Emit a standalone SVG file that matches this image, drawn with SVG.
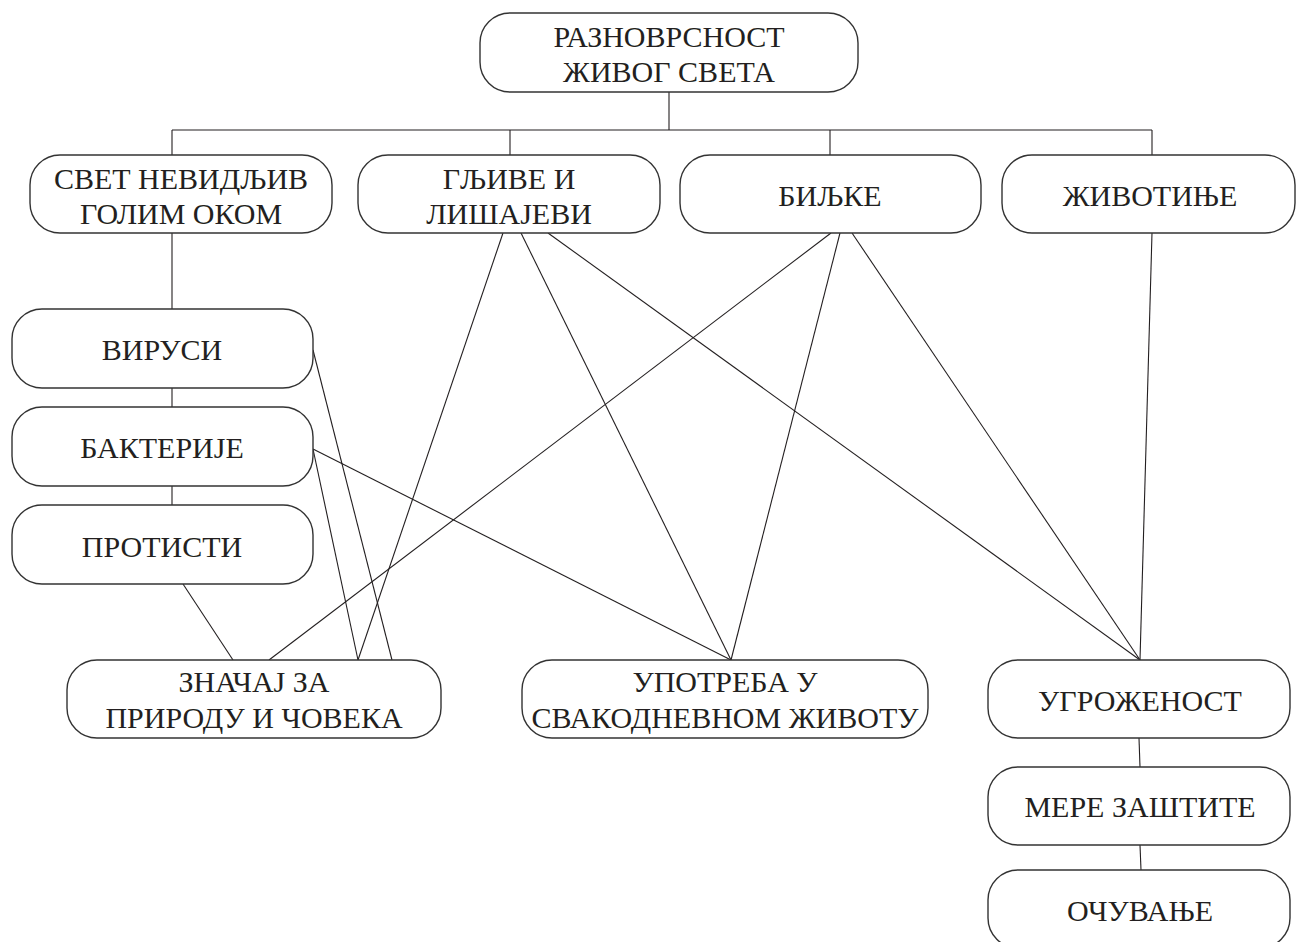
<svg xmlns="http://www.w3.org/2000/svg" width="1296" height="942" viewBox="0 0 1296 942">
<style>
.box{fill:#fff;stroke:#333;stroke-width:1.4}
.t{font-family:"Liberation Serif","Times New Roman",serif;font-size:30px;fill:#231f20;text-anchor:middle}
.c{stroke:#231f20;stroke-width:1.1;fill:none}
</style>
<rect width="1296" height="942" fill="#fff"/>
<g id="connectors">
<line class="c" x1="669" y1="92" x2="669" y2="130"/>
<line class="c" x1="172" y1="130" x2="1152" y2="130"/>
<line class="c" x1="172" y1="130" x2="172" y2="155"/>
<line class="c" x1="510" y1="130" x2="510" y2="155"/>
<line class="c" x1="830" y1="130" x2="830" y2="155"/>
<line class="c" x1="1152" y1="130" x2="1152" y2="155"/>
<line class="c" x1="172" y1="233" x2="172" y2="309"/>
<line class="c" x1="172" y1="388" x2="172" y2="407"/>
<line class="c" x1="172" y1="486" x2="172" y2="505"/>
<line class="c" x1="313" y1="350" x2="392" y2="660"/>
<line class="c" x1="313" y1="449" x2="358" y2="660"/>
<line class="c" x1="313" y1="449" x2="731" y2="660"/>
<line class="c" x1="183" y1="584" x2="233" y2="660"/>
<line class="c" x1="503" y1="233" x2="358" y2="660"/>
<line class="c" x1="521" y1="233" x2="731" y2="660"/>
<line class="c" x1="548" y1="233" x2="1140" y2="660"/>
<line class="c" x1="831" y1="233" x2="269" y2="660"/>
<line class="c" x1="840" y1="233" x2="731" y2="660"/>
<line class="c" x1="852" y1="233" x2="1140" y2="660"/>
<line class="c" x1="1152" y1="233" x2="1140" y2="660"/>
<line class="c" x1="1139" y1="738" x2="1140" y2="767"/>
<line class="c" x1="1140" y1="845" x2="1141" y2="870"/>
</g>
<g id="root"><rect class="box" x="480" y="13" width="378" height="79" rx="30"/><text class="t" x="669" y="47">РАЗНОВРСНОСТ</text><text class="t" x="669" y="82">ЖИВОГ СВЕТА</text></g>
<g id="svet"><rect class="box" x="30" y="155" width="302" height="78" rx="30"/><text class="t" x="181" y="189">СВЕТ НЕВИДЉИВ</text><text class="t" x="181" y="224">ГОЛИМ ОКОМ</text></g>
<g id="gljive"><rect class="box" x="358" y="155" width="302" height="78" rx="30"/><text class="t" x="509" y="189">ГЉИВЕ И</text><text class="t" x="509" y="224">ЛИШАЈЕВИ</text></g>
<g id="biljke"><rect class="box" x="680" y="155" width="301" height="78" rx="30"/><text class="t" x="830" y="206">БИЉКЕ</text></g>
<g id="zivotinje"><rect class="box" x="1002" y="155" width="293" height="78" rx="30"/><text class="t" x="1150" y="206">ЖИВОТИЊЕ</text></g>
<g id="virusi"><rect class="box" x="12" y="309" width="301" height="79" rx="30"/><text class="t" x="162" y="360">ВИРУСИ</text></g>
<g id="bakterije"><rect class="box" x="12" y="407" width="301" height="79" rx="30"/><text class="t" x="162" y="458">БАКТЕРИЈЕ</text></g>
<g id="protisti"><rect class="box" x="12" y="505" width="301" height="79" rx="30"/><text class="t" x="162" y="557">ПРОТИСТИ</text></g>
<g id="znacaj"><rect class="box" x="67" y="660" width="374" height="78" rx="30"/><text class="t" x="254" y="692">ЗНАЧАЈ ЗА</text><text class="t" x="254" y="728">ПРИРОДУ И ЧОВЕКА</text></g>
<g id="upotreba"><rect class="box" x="522" y="660" width="406" height="78" rx="30"/><text class="t" x="725" y="692">УПОТРЕБА У</text><text class="t" x="725" y="728">СВАКОДНЕВНОМ ЖИВОТУ</text></g>
<g id="ugrozenost"><rect class="box" x="988" y="660" width="302" height="78" rx="30"/><text class="t" x="1140" y="711">УГРОЖЕНОСТ</text></g>
<g id="mere"><rect class="box" x="988" y="767" width="302" height="78" rx="30"/><text class="t" x="1140" y="817">МЕРЕ ЗАШТИТЕ</text></g>
<g id="ocuvanje"><rect class="box" x="988" y="870" width="302" height="78" rx="30"/><text class="t" x="1140" y="921">ОЧУВАЊЕ</text></g>
</svg>
